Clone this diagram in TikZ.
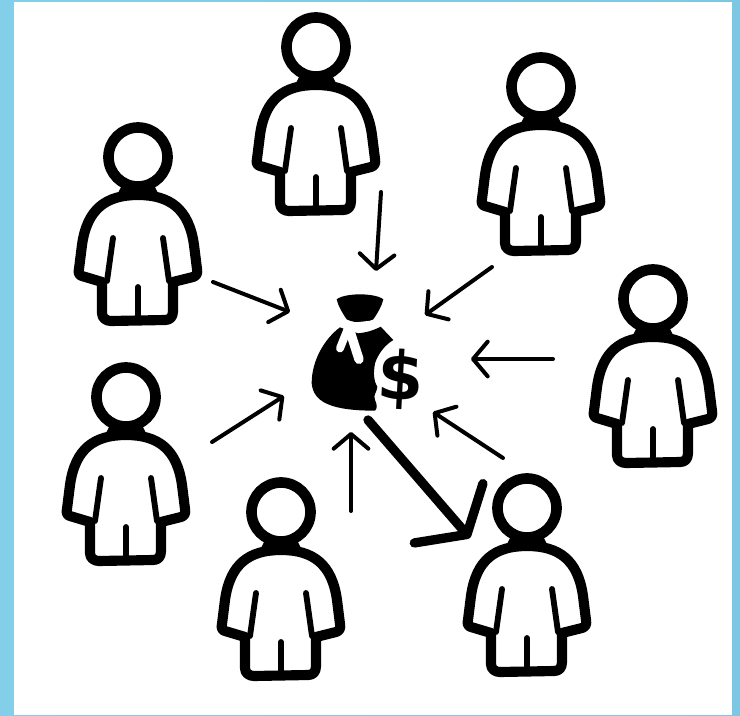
\documentclass[tikz,border=0pt]{standalone}
\usepackage{fontspec}
\setmainfont{DejaVu Sans}
\usetikzlibrary{arrows.meta}
\definecolor{skyA}{RGB}{131,207,233}
\definecolor{skyB}{RGB}{124,200,228}
\tikzset{
  x=0.75pt,y=-0.75pt,
  person/.pic={
    \draw[line width=8pt] (0,0) circle[radius=29.5];
    \draw[line width=7.6pt,line join=round,fill=white]
      (0,38) .. controls (32,38) and (51,52) .. (56,88)
      -- (59,112) .. controls (60,117) and (58,119) .. (55,120)
      -- (35,125) -- (35,154) .. controls (35,160) and (32,163) .. (27,163)
      -- (-27,164) .. controls (-32,164) and (-36,161) .. (-36,156)
      -- (-36,125) -- (-56,119) .. controls (-59,118) and (-60,116) .. (-59,112)
      -- (-56,88) .. controls (-51,52) and (-32,38) .. (0,38) -- cycle;
    \fill (-16,28) -- (16,28) -- (20,36) -- (-20,36) -- cycle;
    \draw[line width=4.4pt,line cap=round] (-25,81) -- (-31,124);
    \draw[line width=4.4pt,line cap=round] (25,81) -- (31,124);
    \draw[line width=4.4pt,line cap=round] (0,130) -- (0,158);
  },
  thinarrow/.style={line width=3pt,line cap=round,-{Straight Barb[round,length=11pt,width=26pt,line width=3pt]}},
  bigarrow/.style={line width=7pt,line cap=round,-{Straight Barb[round,length=21pt,width=68pt,line width=7pt]}}
}
\begin{document}
\begin{tikzpicture}
\useasboundingbox (0,0) rectangle (740,715);
\shade[left color=skyA,right color=skyB] (0,0) rectangle (740,715);
\fill[white] (14,2) rectangle (732,715);

\pic at (316,47) {person};
\pic at (541,87) {person};
\pic at (138,157) {person};
\pic at (653,299) {person};
\pic at (126,397) {person};
\pic at (281,512) {person};
\pic at (527,508) {person};

% money bag
\begin{scope}[shift={(290,280)},x=0.25pt,y=-0.25pt]
  \fill (140,58) .. controls (165,38) and (255,38) .. (280,58)
     .. controls (275,80) and (262,100) .. (250,118)
     .. controls (225,130) and (195,130) .. (170,118)
     .. controls (158,100) and (145,80) .. (140,58) -- cycle;
  \fill (150,142) .. controls (105,175) and (65,240) .. (65,310)
     .. controls (70,365) and (120,392) .. (255,392)
     .. controls (262,385) and (262,375) .. (255,360)
     .. controls (248,345) and (262,335) .. (262,320)
     .. controls (250,300) and (250,280) .. (255,250)
     .. controls (265,220) and (285,195) .. (310,180)
     -- (272,140) .. controls (250,152) and (225,158) .. (205,160)
     -- (170,150) -- cycle;
  \draw[white,line width=6pt,line cap=round,line join=round]
     (172,150) -- (150,205);
  \draw[white,line width=7pt,line cap=round,line join=round]
     (182,160) -- (207,238);
  \draw[white,line width=5pt,line cap=round] (170,140) -- (262,130);
\end{scope}
\node[rotate=-3,inner sep=0pt,font=\bfseries\fontsize{50pt}{50pt}\selectfont] (dollar) at (401,379) {\$};

% arrow ends
\coordinate (t1) at (381,192); \coordinate (h1) at (376,271);
\coordinate (t2) at (492,267); \coordinate (h2) at (425,315);
\coordinate (t3) at (553,359); \coordinate (h3) at (471,359);
\coordinate (t4) at (503,458); \coordinate (h4) at (433,412);
\coordinate (t5) at (351,511); \coordinate (h5) at (351,432);
\coordinate (t6) at (212,442); \coordinate (h6) at (284,396);
\coordinate (t7) at (213,282); \coordinate (h7) at (290,312);
\coordinate (t8) at (368,420); \coordinate (h8) at (470,538);
\draw[thinarrow] (t1) -- (h1);
\draw[thinarrow] (t2) -- (h2);
\draw[thinarrow] (t3) -- (h3);
\draw[thinarrow] (t4) -- (h4);
\draw[thinarrow] (t5) -- (h5);
\draw[thinarrow] (t6) -- (h6);
\draw[thinarrow] (t7) -- (h7);
\draw[bigarrow] (t8) -- (h8);
\end{tikzpicture}
\end{document}
